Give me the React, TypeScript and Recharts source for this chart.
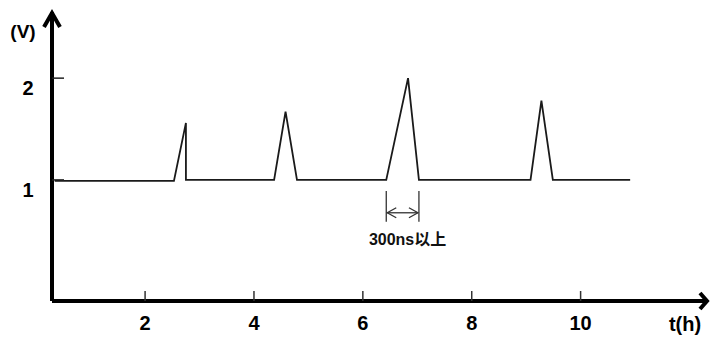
import { LineChart, Line, XAxis, YAxis, ReferenceDot, ReferenceArea } from "recharts"

// pulse waveform
const timeH = [0.34, 2.53, 2.75, 2.75, 4.37, 4.58, 4.79, 6.43, 6.83, 7.03, 9.08, 9.28, 9.49, 10.91]
const voltage = [0.99, 0.99, 1.56, 1.0, 1.0, 1.67, 1.0, 1.0, 2.0, 1.0, 1.0, 1.78, 1.0, 1.0]

const xTicks = [2, 4, 6, 8, 10]
const yTicks = [1, 2]
const xDomain = [0.29, 12.34]
const yDomain = [-0.19, 2.65]

// width marker around the tallest pulse
const markStart = timeH[7]
const markEnd = timeH[9]
const markLow = 0.59
const markHigh = 0.89
const markText = "300ns以上"

const data = timeH.map((t, i) => ({ t, v: voltage[i] }))

const font = "'Liberation Sans', Arial, 'Noto Sans CJK SC', sans-serif"

const XTick = ({ x, y, payload }: any) => (
  <g>
    <line x1={x} y1={y - 10} x2={x} y2={y} stroke="#333" strokeWidth={1.5} />
    <text x={x} y={y + 29} textAnchor="middle" fontSize={20} fontWeight="bold" fill="#000" fontFamily={font}>
      {payload.value}
    </text>
  </g>
)

const YTick = ({ x, y, payload }: any) => (
  <g>
    <line x1={x} y1={y} x2={x + 12} y2={y} stroke="#222" strokeWidth={1.5} />
    <text x={x - 24} y={y + 17} textAnchor="middle" fontSize={20} fontWeight="bold" fill="#000" fontFamily={font}>
      {payload.value}
    </text>
  </g>
)

const YArrow = ({ cx, cy }: any) => (
  <g>
    <polyline points={`${cx - 8},${cy + 15} ${cx},${cy + 1} ${cx + 8},${cy + 15}`} fill="none" stroke="#000" strokeWidth={4} />
    <text x={cx - 29} y={cy + 26} textAnchor="middle" fontSize={19} fontWeight="bold" fill="#000" fontFamily={font}>
      (V)
    </text>
  </g>
)

const XArrow = ({ cx, cy }: any) => (
  <g>
    <polyline points={`${cx - 8},${cy - 8} ${cx - 1},${cy} ${cx - 8},${cy + 8}`} fill="none" stroke="#000" strokeWidth={4} />
    <text x={cx - 23} y={cy + 30} textAnchor="middle" fontSize={20} fontWeight="bold" fill="#000" fontFamily={font}>
      t(h)
    </text>
  </g>
)

const WidthMark = ({ x, y, width, height }: any) => {
  const ay = y + height * 0.71
  return (
    <g stroke="#333" strokeWidth={1.3} fill="none">
      <line x1={x} y1={y} x2={x} y2={y + height} />
      <line x1={x + width} y1={y} x2={x + width} y2={y + height} />
      <line x1={x + 1} y1={ay} x2={x + width - 1} y2={ay} />
      <polyline points={`${x + 10},${ay - 5} ${x + 1},${ay} ${x + 10},${ay + 5}`} />
      <polyline points={`${x + width - 10},${ay - 5} ${x + width - 1},${ay} ${x + width - 10},${ay + 5}`} />
      <text
        x={x + width / 2 + 5}
        y={y + height + 23}
        textAnchor="middle"
        fontSize={16}
        fontWeight="bold"
        fill="#111"
        stroke="none"
        fontFamily={font}
      >
        {markText}
      </text>
    </g>
  )
}

export default function App() {
  return (
    <div style={{ position: "absolute", left: 0, top: 0, width: 711, height: 338, background: "#fff" }}>
      <LineChart width={711} height={338} data={data} margin={{ top: 12, right: 3, left: 0, bottom: 0 }}>
        <XAxis
          dataKey="t"
          type="number"
          domain={xDomain}
          allowDataOverflow
          ticks={xTicks}
          tick={<XTick />}
          tickLine={false}
          tickSize={0}
          tickMargin={0}
          height={37}
          axisLine={{ stroke: "#000", strokeWidth: 4 }}
        />
        <YAxis
          type="number"
          domain={yDomain}
          allowDataOverflow
          ticks={yTicks}
          tick={<YTick />}
          tickLine={false}
          tickSize={0}
          tickMargin={0}
          width={52}
          axisLine={{ stroke: "#000", strokeWidth: 4 }}
        />
        <Line
          dataKey="v"
          type="linear"
          stroke="#1a1a1a"
          strokeWidth={1.8}
          dot={false}
          isAnimationActive={false}
        />
        <ReferenceArea x1={markStart} x2={markEnd} y1={markLow} y2={markHigh} shape={<WidthMark />} ifOverflow="visible" />
        <ReferenceDot x={xDomain[0]} y={yDomain[1]} shape={<YArrow />} ifOverflow="visible" />
        <ReferenceDot x={xDomain[1]} y={yDomain[0]} shape={<XArrow />} ifOverflow="visible" />
      </LineChart>
    </div>
  )
}
